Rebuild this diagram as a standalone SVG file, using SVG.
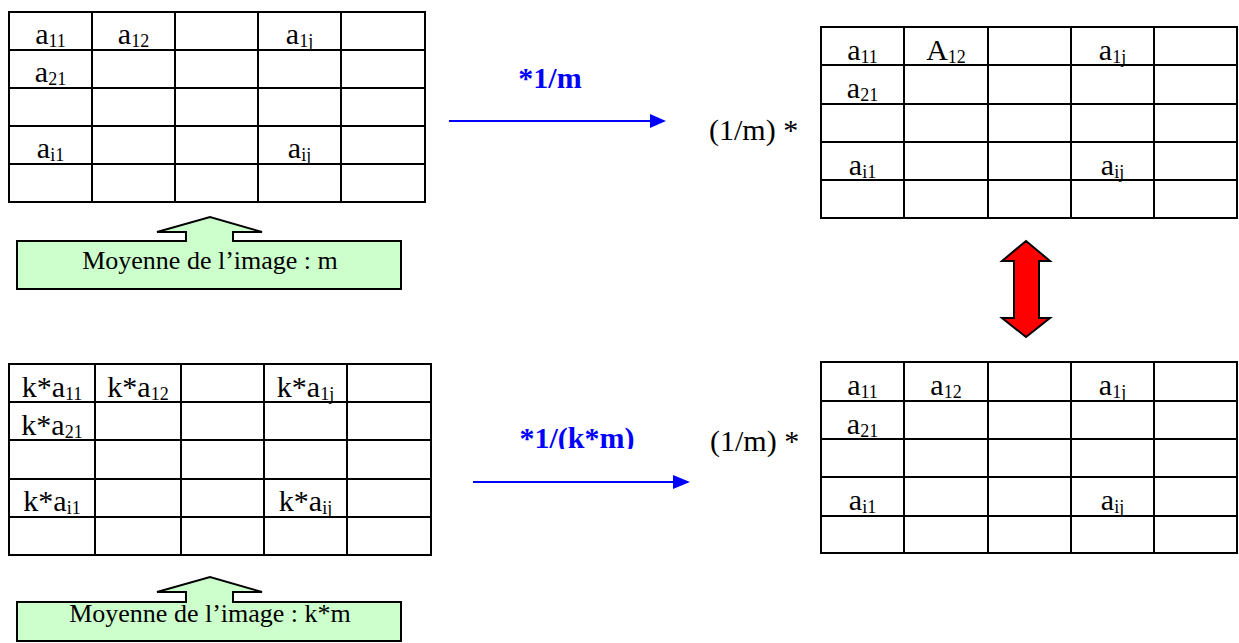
<svg xmlns="http://www.w3.org/2000/svg" width="1239" height="643" viewBox="0 0 1239 643">
<style>
.grid{fill:#fff;stroke:#000;stroke-width:2}
.gl{fill:none;stroke:#000;stroke-width:2}
.c{font-family:"Liberation Serif","Times New Roman",serif;font-size:30px;fill:#000;text-anchor:middle}
.s{font-size:18px}
.note{fill:#CCFFCC;stroke:#000;stroke-width:2;stroke-linejoin:miter}
.nt{font-family:"Liberation Serif","Times New Roman",serif;font-size:26px;fill:#000;text-anchor:middle}
.lbl{font-family:"Liberation Serif","Times New Roman",serif;font-size:30px;font-weight:bold;fill:#0000FF;text-anchor:middle}
.mul{font-family:"Liberation Serif","Times New Roman",serif;font-size:30px;fill:#000}
.arr{stroke:#0000FF;stroke-width:2;fill:none}
.head{fill:#0000FF}
</style>
<defs>
<clipPath id="clipLbl"><rect x="480" y="400" width="200" height="49"/></clipPath>
</defs>
<rect width="1239" height="643" fill="#fff"/>

<g id="table-top-left">
<rect class="grid" x="9" y="12" width="416" height="190"/>
<path class="gl" d="M92,12V202M175,12V202M258,12V202M341,12V202M9,50H425M9,88H425M9,126H425M9,164H425"/>
<text class="c" x="50.5" y="44">a<tspan class="s" dy="3">11</tspan></text>
<text class="c" x="133.5" y="44">a<tspan class="s" dy="3">12</tspan></text>
<text class="c" x="299.5" y="44">a<tspan class="s" dy="3">1j</tspan></text>
<text class="c" x="50.5" y="82">a<tspan class="s" dy="3">21</tspan></text>
<text class="c" x="50.5" y="158">a<tspan class="s" dy="3">i1</tspan></text>
<text class="c" x="299.5" y="158">a<tspan class="s" dy="3">ij</tspan></text>
</g>

<g id="note-top">
<path class="note" d="M17,241H186V232H157L210,217L262,232H233V241H401V289H17Z"/>
<text class="nt" x="210" y="269">Moyenne de l’image : m</text>
</g>

<g id="table-top-right">
<rect class="grid" x="821" y="27" width="416" height="191"/>
<path class="gl" d="M904,27V218M988,27V218M1071,27V218M1154,27V218M821,65H1237M821,104H1237M821,142H1237M821,180H1237"/>
<text class="c" x="862.5" y="60">a<tspan class="s" dy="3">11</tspan></text>
<text class="c" x="946" y="60">A<tspan class="s" dy="3">12</tspan></text>
<text class="c" x="1112.5" y="60">a<tspan class="s" dy="3">1j</tspan></text>
<text class="c" x="862.5" y="98">a<tspan class="s" dy="3">21</tspan></text>
<text class="c" x="862.5" y="175">a<tspan class="s" dy="3">i1</tspan></text>
<text class="c" x="1112.5" y="175">a<tspan class="s" dy="3">ij</tspan></text>
</g>
<text id="mul-top" class="mul" x="709" y="140">(1/m) *</text>

<g id="table-bottom-left">
<rect class="grid" x="9" y="364" width="422" height="191"/>
<path class="gl" d="M95,364V555M181,364V555M264,364V555M347,364V555M9,402H431M9,440H431M9,479H431M9,517H431"/>
<text class="c" x="52" y="397">k*a<tspan class="s" dy="3">11</tspan></text>
<text class="c" x="138" y="397">k*a<tspan class="s" dy="3">12</tspan></text>
<text class="c" x="305.5" y="397">k*a<tspan class="s" dy="3">1j</tspan></text>
<text class="c" x="52" y="435">k*a<tspan class="s" dy="3">21</tspan></text>
<text class="c" x="52" y="511">k*a<tspan class="s" dy="3">i1</tspan></text>
<text class="c" x="305.5" y="511">k*a<tspan class="s" dy="3">ij</tspan></text>
</g>

<g id="note-bottom">
<path class="note" d="M17,602H186V592H157L210,577L262,592H233V602H401V641H17Z"/>
<text class="nt" x="210" y="622">Moyenne de l’image : k*m</text>
</g>

<g id="table-bottom-right">
<rect class="grid" x="821" y="362" width="416" height="191"/>
<path class="gl" d="M904,362V553M988,362V553M1071,362V553M1154,362V553M821,401H1237M821,439H1237M821,477H1237M821,516H1237"/>
<text class="c" x="862.5" y="395">a<tspan class="s" dy="3">11</tspan></text>
<text class="c" x="946" y="395">a<tspan class="s" dy="3">12</tspan></text>
<text class="c" x="1112.5" y="395">a<tspan class="s" dy="3">1j</tspan></text>
<text class="c" x="862.5" y="434">a<tspan class="s" dy="3">21</tspan></text>
<text class="c" x="862.5" y="510">a<tspan class="s" dy="3">i1</tspan></text>
<text class="c" x="1112.5" y="510">a<tspan class="s" dy="3">ij</tspan></text>
</g>
<text id="mul-bottom" class="mul" x="710" y="451">(1/m) *</text>

<g id="connectors">
<line class="arr" x1="449" y1="121" x2="652" y2="121"/>
<polygon class="head" points="666,121 650,114 650,128"/>
<text class="lbl" x="550" y="88">*1/m</text>
<line class="arr" x1="473" y1="482" x2="675" y2="482"/>
<polygon class="head" points="690,482 673,475 673,489"/>
<text class="lbl" x="577" y="448" clip-path="url(#clipLbl)">*1/(k*m)</text>
<path d="M1026,241L1050,261H1039V318H1050L1026,337L1002,318H1014V261H1002Z" fill="#FF0000" stroke="#000" stroke-width="2" stroke-linejoin="miter"/>
</g>
</svg>
